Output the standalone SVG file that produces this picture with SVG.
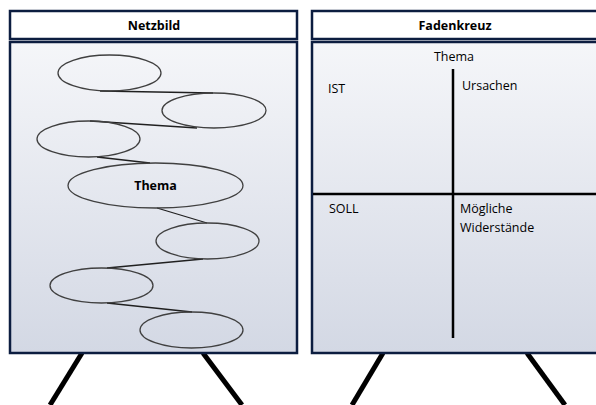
<svg xmlns="http://www.w3.org/2000/svg" width="596" height="405" viewBox="0 0 596 405">
<defs>
<linearGradient id="bg" x1="0" y1="0" x2="0" y2="1">
<stop offset="0" stop-color="#f5f6f9"/>
<stop offset="1" stop-color="#d3d8e4"/>
</linearGradient>
<style>
.title{fill:#ffffff;stroke:#0c1d40;stroke-width:2.5}
.board{fill:url(#bg);stroke:#0c1d40;stroke-width:2.5}
.leg{stroke:#000;stroke-width:5;stroke-linecap:butt}
.ell{fill:none;stroke:#404040;stroke-width:1.3}
.con{stroke:#202020;stroke-width:1.3;fill:none}
.cross{stroke:#000;stroke-width:2.5}
.tb{font-family:"Open Sans","Liberation Sans",sans-serif;font-weight:bold;font-size:12.5px;fill:#000}
.t{font-family:"Open Sans","Liberation Sans",sans-serif;font-size:12.5px;fill:#000}
</style>
</defs>
<g id="netzbild">
<line class="leg" x1="82" y1="353" x2="50" y2="405"/>
<line class="leg" x1="203" y1="353" x2="242" y2="405"/>
<rect class="title" x="10" y="11" width="287" height="28"/>
<text class="tb" x="154" y="30" text-anchor="middle">Netzbild</text>
<rect class="board" x="10" y="42" width="287" height="311"/>
</g>
<g id="connectors">
<line class="con" x1="100" y1="91" x2="213" y2="93"/>
<line class="con" x1="197" y1="128" x2="90" y2="121"/>
<line class="con" x1="97" y1="157" x2="150" y2="163"/>
<line class="con" x1="157" y1="208" x2="207" y2="223"/>
<line class="con" x1="203" y1="259" x2="107" y2="268"/>
<line class="con" x1="107" y1="303" x2="192" y2="312"/>
</g>
<g id="e1"><ellipse class="ell" cx="109.5" cy="73" rx="51.5" ry="18"/></g>
<g id="e2"><ellipse class="ell" cx="214" cy="110.5" rx="52" ry="17.5"/></g>
<g id="e3"><ellipse class="ell" cx="88.5" cy="139" rx="51.5" ry="18"/></g>
<g id="thema"><ellipse class="ell" cx="155.5" cy="185.5" rx="87.5" ry="22.5"/>
<text class="tb" x="155.5" y="190" text-anchor="middle">Thema</text></g>
<g id="e5"><ellipse class="ell" cx="207.5" cy="241" rx="51.5" ry="18"/></g>
<g id="e6"><ellipse class="ell" cx="101.5" cy="285.5" rx="51.5" ry="17.5"/></g>
<g id="e7"><ellipse class="ell" cx="191.5" cy="330" rx="51.5" ry="18"/></g>
<g id="fadenkreuz">
<line class="leg" x1="383" y1="353" x2="352" y2="405"/>
<line class="leg" x1="527" y1="353" x2="565" y2="405"/>
<rect class="title" x="312" y="11" width="290" height="28"/>
<text class="tb" x="455" y="30" text-anchor="middle">Fadenkreuz</text>
<rect class="board" x="312" y="42" width="290" height="311"/>
<line class="cross" x1="453" y1="69" x2="453" y2="338"/>
<line class="cross" x1="313" y1="194" x2="596" y2="194"/>
<text class="t" x="454" y="61" text-anchor="middle">Thema</text>
<text class="t" x="328" y="93">IST</text>
<text class="t" x="462" y="90">Ursachen</text>
<text class="t" x="329" y="213">SOLL</text>
<text class="t" x="460" y="213">Mögliche</text>
<text class="t" x="460" y="232">Widerstände</text>
</g>
</svg>
